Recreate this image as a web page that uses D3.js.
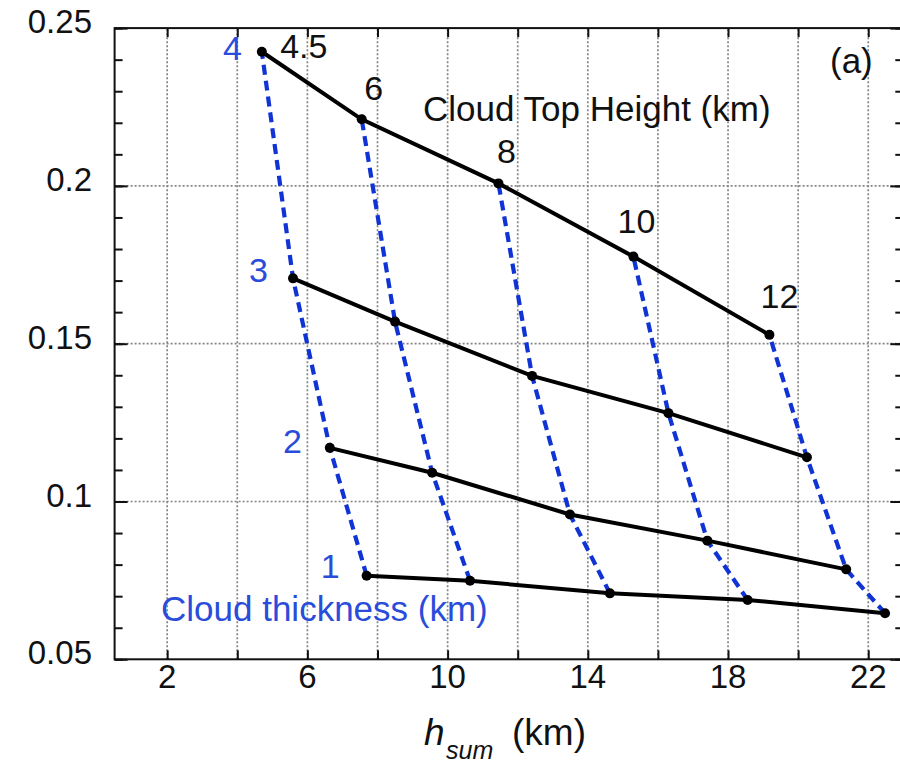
<!DOCTYPE html>
<html>
<head>
<meta charset="utf-8">
<script src="https://cdn.jsdelivr.net/npm/d3@7"></script>
<style>
  html, body { margin: 0; padding: 0; background: #fff; }
  svg { display: block; font-family: "Liberation Sans", Arial, Helvetica, sans-serif; }
</style>
</head>
<body>
<svg id="chart" width="900" height="765"></svg>
<script>
// Cloud top heights (km) and cloud thicknesses (km) of the grid
const topHeights = [4.5, 6, 8, 10, 12];
const thicknesses = [1, 2, 3, 4];

// h_sum (km) for each thickness, one value per cloud top height
const hsumT1 = [7.69, 10.64, 14.63, 18.56, 22.48];
const hsumT2 = [6.64, 9.56, 13.49, 17.41, 21.37];
const hsumT3 = [5.59, 8.50, 12.41, 16.30, 20.25];
const hsumT4 = [4.70, 7.55, 11.45, 15.30, 19.18];

// y-value for each thickness, one value per cloud top height
const ratioT1 = [0.0765, 0.0749, 0.0709, 0.0688, 0.0646];
const ratioT2 = [0.1170, 0.1091, 0.0959, 0.0876, 0.0785];
const ratioT3 = [0.1707, 0.1570, 0.1398, 0.1280, 0.1140];
const ratioT4 = [0.2425, 0.2211, 0.2008, 0.1776, 0.1528];

// Axis ticks
const xTicks = [2, 4, 6, 8, 10, 12, 14, 16, 18, 20, 22];
const xTickLabels = [2, 6, 10, 14, 18, 22];
const yMajor = [0.05, 0.1, 0.15, 0.2, 0.25];
const yGrid = [0.1, 0.15, 0.2];
const yMinor = d3.range(5, 26).map(v => v / 100);

const hsumRows = [hsumT1, hsumT2, hsumT3, hsumT4];
const ratioRows = [ratioT1, ratioT2, ratioT3, ratioT4];

const svg = d3.select("#chart");
const x = d3.scaleLinear().domain([0.5, 23]).range([114.6, 903.3]);
const y = d3.scaleLinear().domain([0.05, 0.25]).range([659.3, 28.1]);
const [x0, x1] = x.range();
const [y0, y1] = y.range();

const BLUE = "#0f33d4";
const BLUE_TEXT = "#2a4cdb";

// dotted grid
const grid = svg.append("g").attr("stroke", "#858585").attr("stroke-width", 1.7)
  .attr("stroke-dasharray", "2,2");
grid.selectAll("line.v").data(xTicks).join("line")
  .attr("x1", d => x(d)).attr("x2", d => x(d)).attr("y1", y0).attr("y2", y1);
grid.selectAll("line.h").data(yGrid).join("line")
  .attr("x1", x0).attr("x2", x1).attr("y1", d => y(d)).attr("y2", d => y(d));

// frame axes with inward ticks
const ax = svg.append("g");
ax.append("g").attr("transform", `translate(0,${y0})`)
  .call(d3.axisTop(x).tickValues(xTicks).tickSize(9).tickFormat(""));
ax.append("g").attr("transform", `translate(0,${y1})`)
  .call(d3.axisBottom(x).tickValues(xTicks).tickSize(9).tickFormat(""));
ax.append("g").attr("transform", `translate(${x0},0)`)
  .call(d3.axisRight(y).tickValues(yMinor).tickSize(8).tickFormat(""));
ax.append("g").attr("transform", `translate(${x0},0)`)
  .call(d3.axisRight(y).tickValues(yMajor).tickSize(13).tickFormat(""));
ax.append("g").attr("transform", `translate(${x1},0)`)
  .call(d3.axisLeft(y).tickValues(yMinor).tickSize(8).tickFormat(""));
ax.append("g").attr("transform", `translate(${x1},0)`)
  .call(d3.axisLeft(y).tickValues(yMajor).tickSize(13).tickFormat(""));
ax.selectAll(".domain").remove();
ax.selectAll(".tick line").attr("stroke", "#111").attr("stroke-width", 2);
svg.append("rect").attr("x", x0).attr("y", y1).attr("width", x1 - x0).attr("height", y0 - y1)
  .attr("fill", "none").attr("stroke", "#111").attr("stroke-width", 2);

// tick labels
svg.append("g").selectAll("text").data(yMajor).join("text")
  .attr("x", 92).attr("y", d => y(d) + 5).attr("text-anchor", "end")
  .attr("font-size", 33).attr("fill", "#111")
  .text(d => d3.format("")(d));
svg.append("g").selectAll("text").data(xTickLabels).join("text")
  .attr("x", d => x(d)).attr("y", y0 + 29).attr("text-anchor", "middle")
  .attr("font-size", 33).attr("fill", "#111").text(d => d);

// constant cloud-top-height curves (blue dashed)
const pathLine = d3.line().x(d => x(d[0])).y(d => y(d[1]));
svg.append("g").selectAll("path").data(topHeights.map((h, j) =>
  thicknesses.map((t, i) => [hsumRows[i][j], ratioRows[i][j]])))
  .join("path")
  .attr("d", pathLine).attr("fill", "none").attr("stroke", BLUE)
  .attr("stroke-width", 4.2).attr("stroke-dasharray", "10,6");

// constant thickness curves (black solid)
svg.append("g").selectAll("path").data(thicknesses.map((t, i) =>
  hsumRows[i].map((v, j) => [v, ratioRows[i][j]])))
  .join("path")
  .attr("d", pathLine).attr("fill", "none").attr("stroke", "#000")
  .attr("stroke-width", 4);

// grid points
const pts = [];
thicknesses.forEach((t, i) => hsumRows[i].forEach((v, j) => pts.push([v, ratioRows[i][j]])));
svg.append("g").selectAll("circle").data(pts).join("circle")
  .attr("cx", d => x(d[0])).attr("cy", d => y(d[1])).attr("r", 5).attr("fill", "#000");

// cloud top height labels at the thickest row
const topLabelOffsets = [[42, 6], [12, -19], [8, -20], [3, -24], [10, -27]];
svg.append("g").selectAll("text").data(topHeights).join("text")
  .attr("x", (d, j) => x(hsumT4[j]) + topLabelOffsets[j][0])
  .attr("y", (d, j) => y(ratioT4[j]) + topLabelOffsets[j][1])
  .attr("text-anchor", "middle").attr("font-size", 34).attr("fill", "#111")
  .text(d => d);

// thickness labels at the left end of each row
const thickLabelOffsets = [[-27, 2], [-28, 5], [-25, 4], [-20, 8]];
svg.append("g").selectAll("text").data(thicknesses).join("text")
  .attr("x", (d, i) => x(hsumRows[i][0]) + thickLabelOffsets[i][0])
  .attr("y", (d, i) => y(ratioRows[i][0]) + thickLabelOffsets[i][1])
  .attr("text-anchor", "end").attr("font-size", 34).attr("fill", BLUE_TEXT)
  .text(d => d);

// annotations
svg.append("text").attr("x", 423).attr("y", 121).attr("font-size", 35).attr("fill", "#111")
  .text("Cloud Top Height (km)");
svg.append("text").attr("x", 161).attr("y", 621).attr("font-size", 35).attr("fill", BLUE_TEXT)
  .text("Cloud thickness (km)");
svg.append("text").attr("x", 830).attr("y", 73).attr("font-size", 35).attr("fill", "#111")
  .text("(a)");

// x-axis title
const title = svg.append("text").attr("fill", "#111");
title.append("tspan").attr("x", 424).attr("y", 745).attr("font-size", 37)
  .attr("font-style", "italic").text("h");
title.append("tspan").attr("x", 446).attr("y", 759).attr("font-size", 25)
  .attr("font-style", "italic").text("sum");
title.append("tspan").attr("x", 512).attr("y", 745).attr("font-size", 37).text("(km)");
</script>
</body>
</html>
